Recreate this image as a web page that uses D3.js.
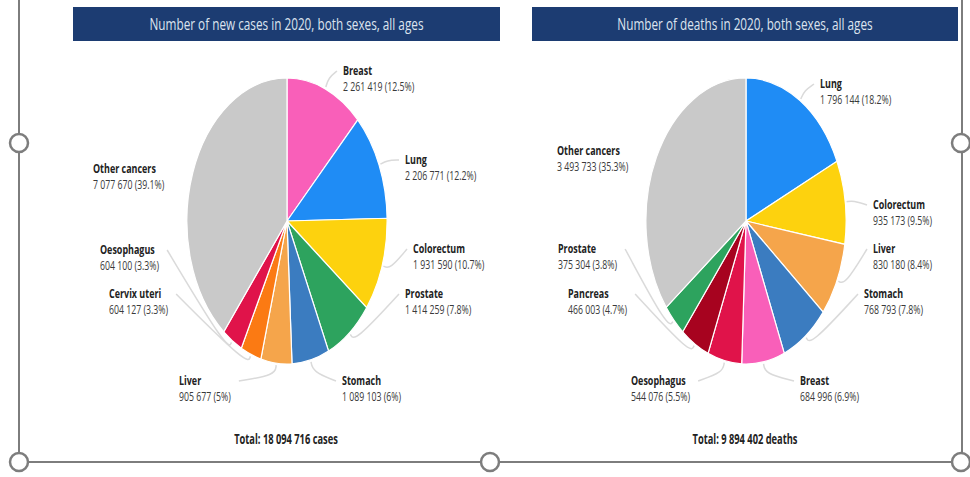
<!DOCTYPE html>
<html>
<head>
<meta charset="utf-8">
<script src="https://cdn.jsdelivr.net/npm/d3@7"></script>
<style>
  html, body { margin: 0; padding: 0; background: #fff; }
  svg { display: block; font-family: 'Open Sans', 'Noto Sans', sans-serif; }
</style>
</head>
<body>
<div id="chart"></div>
<script>
// DATA
const casesSites = ['Breast', 'Lung', 'Colorectum', 'Prostate', 'Stomach', 'Liver', 'Cervix uteri', 'Oesophagus', 'Other cancers'];
const casesValues = [2261419, 2206771, 1931590, 1414259, 1089103, 905677, 604127, 604100, 7077670];
const casesPct = ['12.5', '12.2', '10.7', '7.8', '6', '5', '3.3', '3.3', '39.1'];

const deathsSites = ['Lung', 'Colorectum', 'Liver', 'Stomach', 'Breast', 'Oesophagus', 'Pancreas', 'Prostate', 'Other cancers'];
const deathsValues = [1796144, 935173, 830180, 768793, 684996, 544076, 466003, 375304, 3493733];
const deathsPct = ['18.2', '9.5', '8.4', '7.8', '6.9', '5.5', '4.7', '3.8', '35.3'];

const siteColors = {
  'Breast': '#f95fb9',
  'Lung': '#1f8cf5',
  'Colorectum': '#fdd20e',
  'Prostate': '#2da35e',
  'Stomach': '#3b7cc0',
  'Liver': '#f5a54b',
  'Cervix uteri': '#fb7a13',
  'Oesophagus': '#e0134a',
  'Pancreas': '#a7031f',
  'Other cancers': '#c9c9c9'
};

// SETTINGS
const width = 970;
const height = 477;
const sx = 0.7;          // horizontal squash of the whole picture
const radius = 143;
const titleColor = '#1c3c72';
const leaderColor = '#dadada';
const fmt = d3.formatLocale({ decimal: '.', thousands: ' ', grouping: [3], currency: ['', ''] }).format(',');

// label layout (screen px): x, name baseline, leader anchor side
const casesLabelX = [343, 405, 413, 405, 342, 179, 109, 100, 93];
const casesLabelY = [75, 164, 253, 298, 385, 385, 298, 254, 173];
const casesAnchor = ['L', 'L', 'L', 'L', 'L', 'R', 'R', 'R', null];

const deathsLabelX = [820, 873, 873, 864, 800, 631, 568, 558, 557];
const deathsLabelY = [88, 209, 253, 298, 385, 385, 298, 253, 155];
const deathsAnchor = ['L', 'L', 'L', 'L', 'L', 'R', 'R', 'R', null];

const panels = [
  { title: 'Number of new cases in 2020, both sexes, all ages', sites: casesSites, values: casesValues, pct: casesPct,
    lx: casesLabelX, ly: casesLabelY, anchor: casesAnchor, total: 'Total: ' + fmt(d3.sum(casesValues)) + ' cases',
    cx: 287, barX: 73, barW: 427 },
  { title: 'Number of deaths in 2020, both sexes, all ages', sites: deathsSites, values: deathsValues, pct: deathsPct,
    lx: deathsLabelX, ly: deathsLabelY, anchor: deathsAnchor, total: 'Total: ' + fmt(d3.sum(deathsValues)) + ' deaths',
    cx: 746, barX: 532, barW: 426 }
];
const cy = 221;

const svg = d3.select('#chart')
  .append('svg')
  .attr('width', width)
  .attr('height', height);

const pie = d3.pie().sort(null).value(d => d.value);
const arc = d3.arc().innerRadius(0).outerRadius(radius);
const leader = d3.line().curve(d3.curveBasis);

panels.forEach(p => {
  const rows = p.sites.map((s, i) => ({ site: s, value: p.values[i], pct: p.pct[i], x: p.lx[i], y: p.ly[i], anchor: p.anchor[i] }));
  const g = svg.append('g');

  // TITLE BAR
  g.append('rect')
    .attr('x', p.barX).attr('y', 7)
    .attr('width', p.barW).attr('height', 34)
    .attr('fill', titleColor);
  g.append('text')
    .attr('transform', `translate(${p.barX + p.barW / 2}, 30) scale(${sx}, 1)`)
    .attr('text-anchor', 'middle')
    .attr('font-size', 16.8)
    .attr('fill', '#dde4ef')
    .text(p.title);

  // PIE (circle squashed into an ellipse)
  const arcs = pie(rows);
  g.append('g')
    .attr('transform', `translate(${p.cx}, ${cy}) scale(${sx}, 1)`)
    .selectAll('path')
    .data(arcs)
    .enter()
    .append('path')
      .attr('d', arc)
      .attr('fill', d => siteColors[d.data.site])
      .attr('stroke', '#fff')
      .attr('stroke-width', 1.2)
      .attr('vector-effect', 'non-scaling-stroke');

  // LABELS
  const labels = g.selectAll('g.lab')
    .data(arcs)
    .enter()
    .append('g')
      .attr('class', 'lab')
      .attr('transform', d => `translate(${d.data.x}, ${d.data.y}) scale(${sx}, 1)`);
  labels.append('text')
    .attr('font-size', 12.8)
    .attr('font-weight', 700)
    .attr('fill', '#222')
    .text(d => d.data.site);
  labels.append('text')
    .attr('y', 16.5)
    .attr('font-size', 12.5)
    .attr('fill', '#3a3a3a')
    .text(d => `${fmt(d.data.value)} (${d.data.pct}%)`);

  // LEADER LINES
  labels.each(function(d) {
    if (!d.data.anchor) return;
    const w = this.getBBox().width * sx;
    const a = (d.startAngle + d.endAngle) / 2;
    const pt = rr => [p.cx + sx * rr * Math.sin(a), cy - rr * Math.cos(a)];
    const end = d.data.anchor === 'L' ? [d.data.x - 6, d.data.y - 4] : [d.data.x + w + 8, d.data.y - 4];
    g.insert('path', ':first-child')
      .attr('d', leader([pt(radius + 2), pt(radius + 12), end]))
      .attr('fill', 'none')
      .attr('stroke', leaderColor)
      .attr('stroke-width', 1.5);
  });

  // TOTAL
  g.append('text')
    .attr('transform', `translate(${p.cx - 1}, 444) scale(${sx}, 1)`)
    .attr('text-anchor', 'middle')
    .attr('font-size', 13.3)
    .attr('font-weight', 700)
    .attr('fill', '#222')
    .text(p.total);
});

// SELECTION FRAME AND HANDLES (screenshot decoration)
const frame = svg.append('g')
  .attr('fill', 'none')
  .attr('stroke', '#7d7d7d');
frame.append('path')
  .attr('d', 'M19,0V462H962V0')
  .attr('stroke-width', 2);
[[19, 143], [19, 462], [490, 462], [961, 143], [961, 462]].forEach(([x, y]) => {
  frame.append('circle')
    .attr('cx', x).attr('cy', y).attr('r', 9)
    .attr('fill', '#fff')
    .attr('stroke-width', 2.5);
});
</script>
</body>
</html>
